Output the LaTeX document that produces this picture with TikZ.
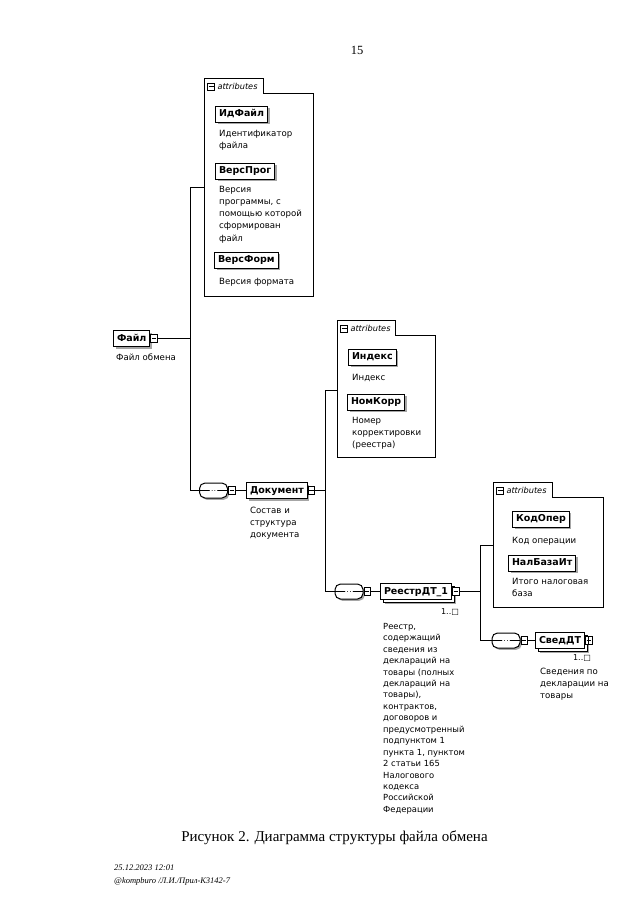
\documentclass[tikz,border=0pt]{standalone}
\usepackage{fontspec}
\setmainfont{DejaVu Sans}
\newfontfamily\capfont{Liberation Serif}
\usetikzlibrary{shadows}
\newcommand\myfl{\rule{0pt}{7pt}}
\tikzset{
  desc/.style={anchor=north west, inner sep=0pt, align=left, font=\fontsize{8.6}{12.2}\selectfont},
  base/.style={draw, line width=1pt, fill=white, inner xsep=3.5pt, inner ysep=0pt,
    minimum height=16pt, text height=7pt, text depth=1.8pt, anchor=west,
    font=\fontsize{9.5}{11}\selectfont\bfseries},
  elem/.style={base, drop shadow={shadow xshift=2pt, shadow yshift=-2pt, fill=gray!70, opacity=1}},
  melem/.style={base, drop shadow={shadow xshift=4.8pt, shadow yshift=-4.8pt, fill=gray!70, opacity=1},
    copy shadow={shadow xshift=3pt, shadow yshift=-3pt}},
  expm/.style={draw, line width=0.7pt, fill=white, minimum width=6.5pt, minimum height=8.5pt,
    inner sep=0pt, anchor=west,
    path picture={\draw[line width=0.7pt] ([xshift=1.2pt]path picture bounding box.west) -- ([xshift=-1.2pt]path picture bounding box.east);}},
  expp/.style={expm,
    path picture={\draw[line width=0.7pt] ([xshift=1.2pt]path picture bounding box.west) -- ([xshift=-1.2pt]path picture bounding box.east);
      \draw[line width=0.7pt] ([yshift=1.2pt]path picture bounding box.south) -- ([yshift=-1.2pt]path picture bounding box.north);}},
  seq/.style={draw, line width=1pt, fill=white, rounded corners=5.5pt, minimum width=28pt,
    minimum height=15pt, inner sep=0pt,
    drop shadow={shadow xshift=1.8pt, shadow yshift=-1.8pt, fill=gray!70, opacity=1},
    path picture={\draw[line width=0.9pt] (path picture bounding box.west) -- (path picture bounding box.east);
      \foreach \d in {-2.8,0,2.8} \fill ([xshift=\d pt]path picture bounding box.center) circle (1.1pt);}},
  conn/.style={line width=1pt},
  attframe/.style={line width=0.9pt},
  attico/.style={draw, line width=0.6pt, minimum width=7pt, minimum height=7pt, inner sep=0pt,
    path picture={\draw[line width=0.6pt] ([xshift=1pt]path picture bounding box.west) -- ([xshift=-1pt]path picture bounding box.east);}},
  attlbl/.style={inner sep=0pt, font=\fontsize{8.2}{9}\selectfont\itshape},
  occ/.style={inner sep=0pt, font=\fontsize{8}{9}\selectfont},
}
\newcommand\attbox[7]{%
  \draw[attframe] (#1,#2) -- (#3,#2) -- (#3,#4) -- (#5,#4) -- (#5,#6) -- (#1,#6) -- cycle;
  \node[attico] (#7ico) at (#1+6.5,#2+8) {};
  \node[attlbl, anchor=west] (#7lbl) at ([xshift=2.5pt]#7ico.east) {attributes};
}
\begin{document}
\begin{tikzpicture}[x=1pt,y=-1pt]
\useasboundingbox (0,0) rectangle (640,921);
\fill[white] (0,0) rectangle (640,921);

\node[font=\capfont\fontsize{12.5}{14}\selectfont] (pnum) at (357,50) {15};

% attribute groups
\attbox{204.5}{78.5}{263.5}{93.5}{313.5}{296.5}{a1}
\attbox{337.5}{320.5}{395.5}{335.5}{435.5}{457.5}{a2}
\attbox{493.5}{482.5}{552.5}{497.5}{603.5}{607.5}{a3}
\coordinate (att1in) at (204.5,187.5);
\coordinate (att2in) at (337.5,390.5);
\coordinate (att3in) at (493.5,545.5);

% group 1 attributes
\node[elem] (idfile) at (215,114) {ИдФайл};
\node[desc] (idfiled) at (219,129) {\myfl Идентификатор\\файла};
\node[elem] (versprog) at (215,171) {ВерсПрог};
\node[desc] (versprogd) at (219,185) {\myfl Версия\\программы, с\\помощью которой\\сформирован\\файл};
\node[elem] (versform) at (214,260) {ВерсФорм};
\node[desc] (versformd) at (219,277) {\myfl Версия формата};

% root
\node[elem] (file) at (113,338.5) {Файл};
\node[expm] (fileexp) at (file.east) {};
\node[desc] (filed) at (116,353) {\myfl Файл обмена};
\coordinate (j1) at (190.5,338.5);

% group 2
\node[elem] (index) at (348,357) {Индекс};
\node[desc] (indexd) at (352,373) {\myfl Индекс};
\node[elem] (nomkorr) at (347,402) {НомКорр};
\node[desc] (nomkorrd) at (352,416) {\myfl Номер\\корректировки\\(реестра)};

% row 2
\node[seq] (seq1) at (213.5,490.5) {};
\node[expm] (seq1exp) at (seq1.east) {};
\node[elem] (doc) at (246,490.5) {Документ};
\node[expm] (docexp) at (doc.east) {};
\node[desc] (docd) at (250,506) {\myfl Состав и\\структура\\документа};
\coordinate (j2) at (325.5,490.5);

% group 3
\node[elem] (kodoper) at (512,519) {КодОпер};
\node[desc] (kodoperd) at (512,536) {\myfl Код операции};
\node[elem] (nalbaza) at (508,563) {НалБазаИт};
\node[desc] (nalbazad) at (512,577) {\myfl Итого налоговая\\база};

% row 3
\node[seq] (seq2) at (349,591.5) {};
\node[expm] (seq2exp) at (seq2.east) {};
\node[melem] (reestr) at (380,591.5) {РеестрДТ\_1};
\node[expm] (reestrexp) at (reestr.east) {};
\node[occ] (reestrocc) at (450,612) {1..□};
\node[desc, font=\fontsize{8.4}{11.45}\selectfont] (reestrd) at (383,622) {\myfl Реестр,\\содержащий\\сведения из\\деклараций на\\товары (полных\\деклараций на\\товары),\\контрактов,\\договоров и\\предусмотренный\\подпунктом 1\\пункта 1, пунктом\\2 статьи 165\\Налогового\\кодекса\\Российской\\Федерации};
\coordinate (j3) at (480.5,591.5);

% row 4
\node[seq] (seq3) at (506,640.5) {};
\node[expm] (seq3exp) at (seq3.east) {};
\node[melem] (sved) at (535,640.5) {СведДТ};
\node[expp] (svedexp) at (sved.east) {};
\node[occ] (svedocc) at (582,658) {1..□};
\node[desc] (svedd) at (540,667) {\myfl Сведения по\\декларации на\\товары};

% connectors
\draw[conn] (fileexp.east) -- (j1);
\draw[conn] (att1in) -| (j1) |- (seq1.west);
\draw[conn] (seq1exp.east) -- (doc.west);
\draw[conn] (docexp.east) -- (j2);
\draw[conn] (att2in) -| (j2) |- (seq2.west);
\draw[conn] (seq2exp.east) -- (reestr.west);
\draw[conn] (reestrexp.east) -- (j3);
\draw[conn] (att3in) -| (j3) |- (seq3.west);
\draw[conn] (seq3exp.east) -- (sved.west);

% caption and footer
\node[font=\capfont\fontsize{15}{18}\selectfont] (caption) at (334.5,838) {Рисунок 2. Диаграмма структуры файла обмена};
\node[anchor=west, inner sep=0pt, font=\capfont\itshape\fontsize{8.5}{10}\selectfont] (foot1) at (114,868) {25.12.2023 12:01};
\node[anchor=west, inner sep=0pt, font=\capfont\itshape\fontsize{8.5}{10}\selectfont] (foot2) at (114,881) {@kompburo /Л.И./Прил-К3142-7};
\end{tikzpicture}
\end{document}
